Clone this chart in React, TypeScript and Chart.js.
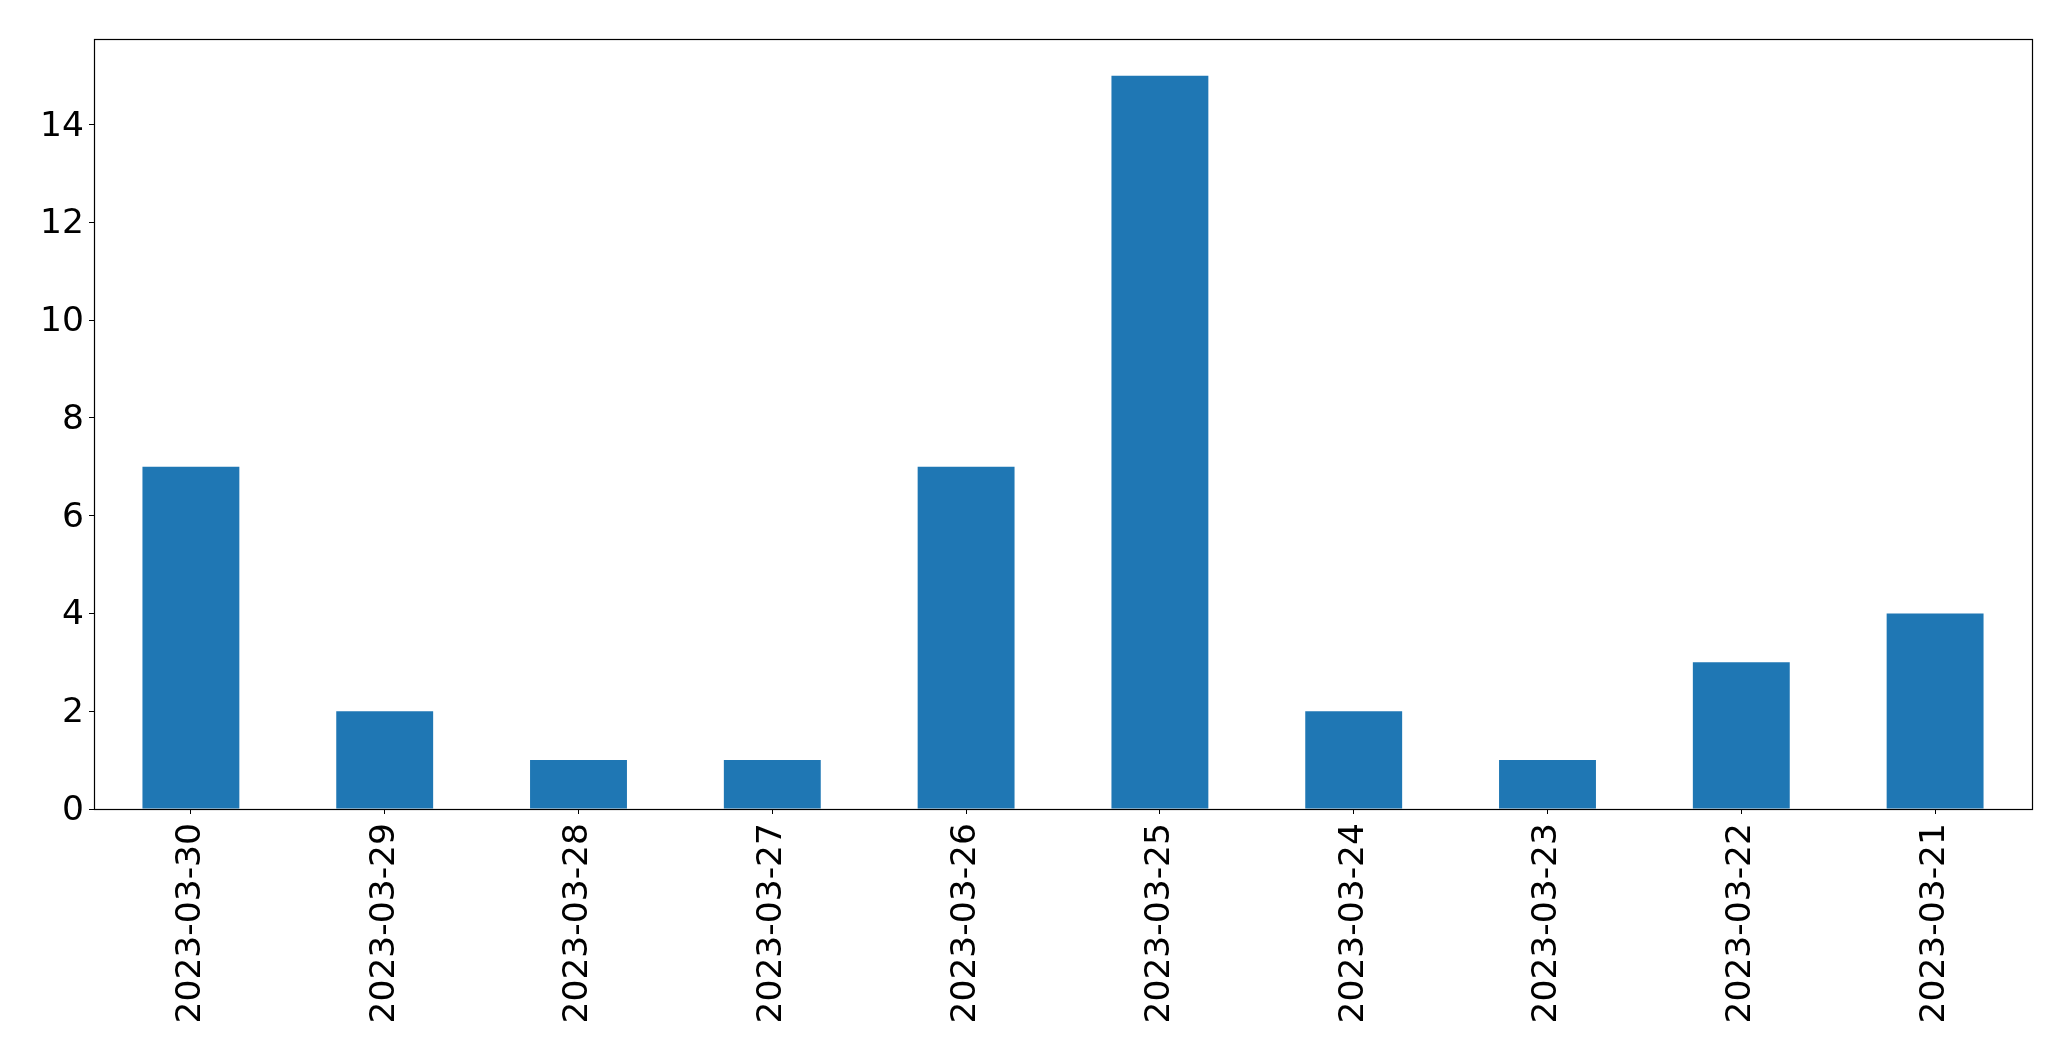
import React, { useEffect, useRef } from "react";
import { Chart, registerables } from "chart.js";

Chart.register(...registerables);

const categories = [
  "2023-03-30",
  "2023-03-29",
  "2023-03-28",
  "2023-03-27",
  "2023-03-26",
  "2023-03-25",
  "2023-03-24",
  "2023-03-23",
  "2023-03-22",
  "2023-03-21",
];
const counts = [7, 2, 1, 1, 7, 15, 2, 1, 3, 4];
const yTicks = [0, 2, 4, 6, 8, 10, 12, 14];
const yMax = 15.75;

const W = 2071;
const H = 1061;

const framePlugin = {
  id: "frame",
  afterDraw(chart: any) {
    const { ctx, chartArea } = chart;
    const l = Math.round(chartArea.left) + 0.5;
    const t = Math.round(chartArea.top) + 0.5;
    const r = Math.round(chartArea.right) + 0.5;
    const b = Math.round(chartArea.bottom) + 0.5;
    ctx.save();
    ctx.strokeStyle = "#000";
    ctx.lineWidth = 1.2;
    ctx.strokeRect(l, t, r - l, b - t);
    ctx.restore();
  },
};

export default function App() {
  const ref = useRef<HTMLCanvasElement | null>(null);
  useEffect(() => {
    if (!ref.current) return;
    const font = { family: "'DejaVu Sans'", size: 34.5 };
    const chart = new Chart(ref.current, {
      type: "bar",
      data: {
        labels: categories,
        datasets: [
          {
            data: counts,
            backgroundColor: "#1f77b4",
            borderWidth: 0,
            categoryPercentage: 0.5,
            barPercentage: 1.0,
          },
        ],
      },
      options: {
        responsive: false,
        animation: false,
        devicePixelRatio: 1,
        layout: { padding: { top: 39, right: 39, left: 0, bottom: 0 } },
        plugins: { legend: { display: false }, tooltip: { enabled: false } },
        scales: {
          x: {
            offset: true,
            grid: { display: true, drawOnChartArea: false, drawTicks: true, tickLength: 5, color: "#000", offset: false, lineWidth: 1 },
            border: { display: false },
            ticks: { font, color: "#000", minRotation: 90, maxRotation: 90, autoSkip: false, padding: 9 },
            afterFit: (scale: any) => {
              scale.height = 252;
            },
          },
          y: {
            min: 0,
            max: yMax,
            grid: { display: true, drawOnChartArea: false, drawTicks: true, tickLength: 5, color: "#000", lineWidth: 1 },
            border: { display: false },
            ticks: { font, color: "#000", padding: 5, labelOffset: 2 },
            afterBuildTicks: (scale: any) => {
              scale.ticks = yTicks.map((v) => ({ value: v }));
            },
            afterFit: (scale: any) => {
              scale.width = 94;
            },
          },
        },
      },
      plugins: [framePlugin],
    });
    return () => chart.destroy();
  }, []);
  return (
    <div style={{ position: "absolute", left: 0, top: 0, width: W, height: H, background: "#fff" }}>
      <canvas ref={ref} width={W} height={H} style={{ width: W, height: H, display: "block" }} />
    </div>
  );
}
